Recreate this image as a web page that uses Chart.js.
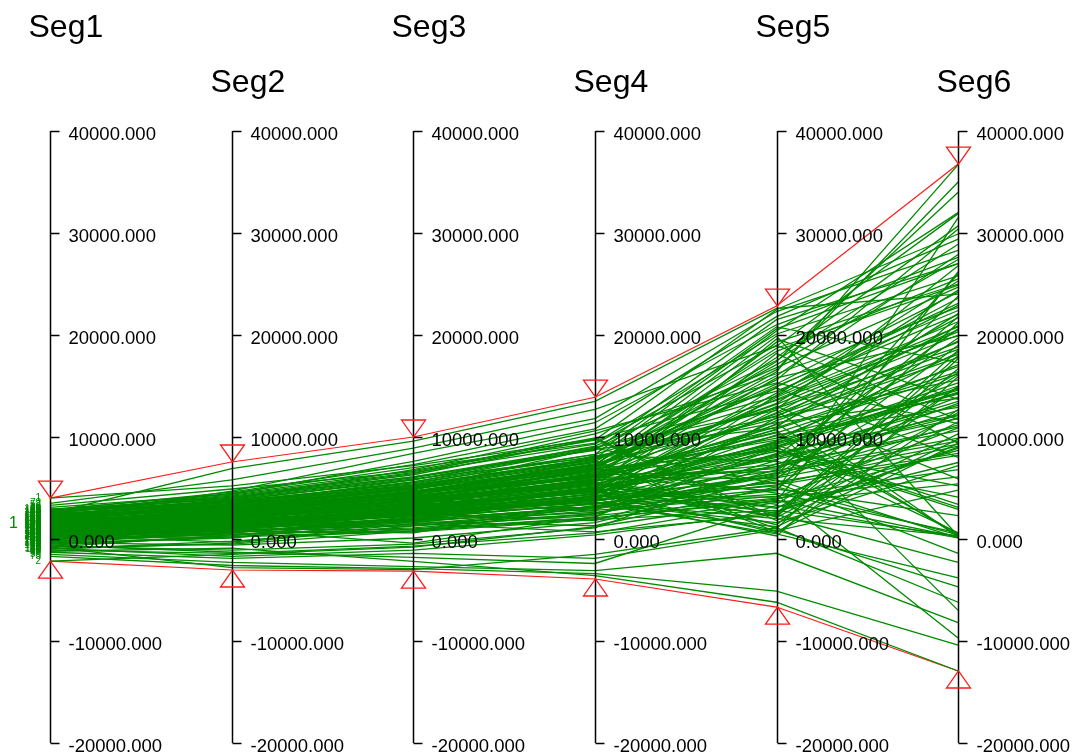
<!DOCTYPE html>
<html>
<head>
<meta charset="utf-8">
<script src="https://cdn.jsdelivr.net/npm/chart.js@4.4.1/dist/chart.umd.min.js"></script>
<style>
  html, body { margin: 0; padding: 0; background: #fff; }
  #wrap { width: 1076px; height: 754px; position: relative; }
</style>
</head>
<body>
<div id="wrap"><canvas id="pc"></canvas></div>
<script>
// axis names and tick values
const segNames = ['Seg1', 'Seg2', 'Seg3', 'Seg4', 'Seg5', 'Seg6'];
const tickValues = [40000, 30000, 20000, 10000, 0, -10000, -20000];

// red envelope (max / min per segment)
const maxValues = [4000, 7550, 10000, 13900, 22840, 36760];
const minValues = [-2160, -3040, -3140, -3920, -6670, -12940];

// one entry per green line, per segment
const seg1Values = [
  4000, -2160, 2800, 1500, 400, -800, 2200, 1200, 600, -300,
  1800, 2500, 900, 300, -1200, 1600, 2100, 700, 100, -500,
  1400, 2900, 1000, 200, -900, 1900, 2400, 800, 500, -200,
  1300, 3100, 1100, -600, 0, 1700, 2300, 650, 350, -1000,
  1450, 2650, 950, 150, -400, 2050, 2750, 850, 450, -700,
  1250, 3300, 1150, 250, -1500, 1550, 2150, 750, 50, -100,
  1350, 2950, 1050, 550, -1300, 1850, 2450, 1250, 300, -250,
  1650, 3500, 1350, 600, -1700, 2000, 2600, 900, 400, -50,
  1100, 2200, 1000, 200, -1100, 1750, 2350, 700, 100, -350,
  1200, 1900, 600, 2700, -800, 1500, 300, 2300, 1000, -300,
  1700, 800, 2100, 0, 1400, 2600, -600, 1100, 1800, 500,
  900, 2400, 1300, -1000, 2000, 700, 1600, 2800, 200, 1450,
  1550, 400, 2250, 1050, -200, 1900, 800, 2500, 1300, 600,
  2100, 1000, -400, 1700, 2900, 350, 1250, 2000, 750, -900,
  1400, 2300, 500, 1800, 1100, -100, 2600, 900, 1600, 300
];
const seg2Values = [
  5200, -1500, 4100, 2300, 1900, -2800, 3600, 700, 1400, 900,
  2600, 3400, 1700, -300, -900, 2900, 4700, 1300, 800, 300,
  2100, 3900, 1900, 1100, -1700, 3200, 2800, 2000, 1500, 500,
  1900, 4400, 2500, -1300, 600, 2400, 3100, 1000, 2200, -400,
  2000, 3700, 1200, 2700, 100, 3500, 4200, 1800, 600, -1100,
  1600, 4900, 2100, 1300, -2300, 2200, 3300, 2600, 400, 1200,
  2400, 3100, 800, 1600, -1900, 2700, 4500, 2300, 1700, 700,
  2800, 5800, 2000, 1000, -2600, 3000, 3800, 1500, 1100, 1400,
  1500, 2900, 1400, 900, -1400, 2500, 3000, 1100, 200, -600,
  2000, 3000, 1500, 4300, 400, 2600, 1200, 3800, 2300, 900,
  2900, 1800, 3500, 1100, 2400, 4100, 200, 2200, 3300, 1500,
  1700, 3600, 2700, -200, 3400, 1600, 2800, 4600, 1000, 2500,
  2800, 1300, 3700, 2000, 700, 3100, 1900, 6900, 2600, 1400,
  3400, 2100, 600, 3000, 4400, 1200, 2500, 3400, 1700, -500,
  2700, 3900, 1600, 3200, 2300, 1000, 4000, 2000, 2900, 1100
];
const seg3Values = [
  7200, -800, 6100, 3000, 4300, -3000, 5200, 1800, 2600, -400,
  4400, 5800, 2300, 1500, -2200, 3700, 8400, 2900, 600, 1900,
  3500, 6800, 4000, 2500, -1100, 4900, 3300, 3900, 3100, 800,
  2700, 7600, 3400, -1800, 2200, 3900, 4800, 900, 3800, 1300,
  3200, 5400, 2000, 4700, 1700, 5600, 6400, 3600, 2100, -500,
  2400, 6600, 3000, 2700, -2700, 3300, 5000, 4500, 1100, 2400,
  3700, 4600, 1400, 2800, -1400, 4200, 7000, 3000, 2800, 1600,
  4100, 8900, 2600, 2000, -2900, 4400, 5900, 2400, 1900, 2900,
  2200, 4300, 2700, 1300, -700, 3400, 4500, 1700, 700, 100,
  3300, 4500, 2700, 6500, 1800, 4000, 2600, 5800, 3900, 2000,
  4600, 3200, 5600, 2600, 3900, 6300, 1500, 3700, 5100, 3000,
  3000, 5300, 4400, 1000, 5200, 3000, 4600, 7300, 2400, 4100,
  4400, 2800, 5500, 3600, 1900, 4900, 3500, 9600, 4200, 2900,
  5300, 3700, 1800, 4700, 6700, 2500, 4100, 5200, 3200, 800,
  4200, 6000, 3100, 5000, 3800, 2300, 6100, 3500, 4700, 2600
];
const seg4Values = [
  9800, 1200, 8700, 5400, 2900, -1500, 7800, 4300, 6100, 2200,
  6300, 9100, 3800, 700, -3600, 5900, 11800, 4900, 3300, 5100,
  5800, 10600, 6900, 1800, 400, 7200, 6500, 2700, 8200, 3600,
  3100, 11400, 5200, -2400, 4500, 6800, 8900, 2100, 5700, 2800,
  4600, 8300, 4100, 7300, 1300, 8800, 10300, 5500, 3900, 1100,
  4200, 9700, 4600, 3800, -3100, 4700, 7100, 6600, 2500, 4000,
  5300, 7400, 3000, 4400, -1900, 6200, 9400, 5000, 4700, 3200,
  6700, 12700, 4400, 3500, -3400, 7000, 8000, 3600, 3100, 4800,
  3400, 6000, 4800, 2300, 600, 5600, 7600, 3000, 1900, 1600,
  5000, 7200, 4400, 9300, 2600, 6200, 3900, 8800, 5800, 3500,
  6800, 4700, 8300, 3900, 6100, 9800, 2400, 5600, 7600, 4900,
  4800, 7900, 6700, 2100, 7800, 4600, 6900, 10800, 3800, 6400,
  6500, 4200, 8100, 5500, 3100, 7300, 5400, 13500, 6300, 4600,
  7900, 5700, 3200, 7100, 9900, 3900, 6200, 7700, 5100, 2000,
  6100, 8900, 4900, 7500, 5900, 3700, 9000, 5300, 7000, 4100
];
const seg5Values = [
  14500, 3800, 21500, 9300, 6200, 1100, 12800, 18200, 4700, 8900,
  10400, 16800, 7100, 2400, -6200, 13700, 22300, 8600, 1200, 19600,
  11200, 15300, 4500, 6800, 2600, 20400, 9900, 14100, 7600, 500,
  8300, 21000, 12400, 3300, 9600, 17400, 5400, 11900, 15800, 4200,
  9100, 13600, 6100, 18700, 5100, 10900, 16200, 3100, 12700, 7400,
  6700, 22500, 8100, 11600, -1400, 7800, 13200, 9700, 5800, 14900,
  9400, 11800, 6500, 10200, 900, 8900, 20100, 7100, 13900, 4900,
  12100, 18900, 9000, 5300, -5100, 15000, 11400, 2000, 6300, 10800,
  5600, 10100, 14300, 4000, 3600, 12300, 17100, 8400, 2800, 6000,
  2200, 15600, 800, 19000, 4800, 10500, 300, 17500, 6900, 1600,
  13300, 2700, 20800, 5500, 11000, 1800, 7700, 3400, 16600, 9200,
  600, 12900, 19900, 3700, 14800, 2300, 8700, 21800, 5200, 10700,
  16400, 4100, 12000, 1400, 9000, 18400, 3000, 22600, 6600, 13000,
  20600, 7300, 4400, 15200, 2100, 11300, 17800, 1000, 8200, 3900,
  5900, 14000, 9500, 700, 19300, 6400, 12600, 2500, 16000, 8000
];
const seg6Values = [
  22000, 200, 27000, 14300, 26000, -6200, 18800, 9400, 31500, 3100,
  16200, 24700, 12600, -2300, -12940, 20800, 28300, 5200, 9800, 13700,
  19400, 11300, 600, 23800, 8900, 32000, 17100, 25300, 4100, -3800,
  13100, 27600, 21700, 100, 18300, 34000, 9100, 15600, 19900, 6800,
  14800, 20300, 11200, 24900, 400, 16900, 22700, 7500, 26800, 10600,
  9900, 29900, 13500, 17800, -8200, 12100, 20500, 14200, 100, 23100,
  15300, 18100, 9600, 12900, -4700, 14400, 25800, 11000, 21300, 2300,
  18600, 31900, 15000, 8200, -10400, 22400, 13800, 300, 11900, 16400,
  8400, 14700, 23600, 6100, 5400, 19300, 27400, 12200, 300, 9300,
  16700, 30400, 4800, 11700, 21200, 500, 15900, 28900, 13300, 7200,
  24400, 9000, 17300, -1400, 22100, 10300, 19700, 14900, 35000, 3400,
  12700, 20000, 300, 26200, 8000, 18000, 2900, 29400, 16100, -7000,
  36700, 10900, 20900, 15000, 600, 25500, 12400, 24000, 21800, 5900,
  27000, 13900, -9700, 24200, 11500, 300, 30700, 17700, 20600, 8700,
  19000, 22900, 14600, 9400, 25000, 16300, 200, 18500, 27900, 11800
];

const allSegs = [seg1Values, seg2Values, seg3Values, seg4Values, seg5Values, seg6Values];
const GREEN = '#008a00';
const RED = '#ff1a1a';

function toPoints(values) {
    return values.map((v, i) => ({ x: i, y: v }));
}

const datasets = [];
for (let i = 0; i < seg1Values.length; i++) {
    datasets.push({
        data: toPoints(allSegs.map(s => s[i])),
        borderColor: GREEN,
        borderWidth: 1.3,
        pointRadius: 0,
        tension: 0
    });
}
[maxValues, minValues].forEach(vals => {
    datasets.push({
        data: toPoints(vals),
        borderColor: RED,
        borderWidth: 1.2,
        pointRadius: 0,
        tension: 0
    });
});

// axes, tick labels, headers and the envelope triangles
const parallelAxes = {
    id: 'parallelAxes',
    afterDatasetsDraw(chart) {
        const ctx = chart.ctx;
        const xs = chart.scales.x;
        const ys = chart.scales.y;
        ctx.save();

        // labels stacked left of Seg1
        ctx.fillStyle = GREEN;
        ctx.font = '10px "Liberation Sans", Arial, sans-serif';
        ctx.textAlign = 'right';
        ctx.textBaseline = 'middle';
        seg1Values.forEach((v, i) => {
            ctx.fillText(String(i + 1), 41, ys.getPixelForValue(v));
        });
        ctx.font = '16px "Liberation Sans", Arial, sans-serif';
        ctx.textAlign = 'left';
        ctx.fillText('1', 9, 524);

        segNames.forEach((name, i) => {
            const px = Math.round(xs.getPixelForValue(i)) + 0.5;
            const top = ys.getPixelForValue(40000);
            const bottom = ys.getPixelForValue(-20000);

            ctx.strokeStyle = '#000';
            ctx.lineWidth = 1.5;
            ctx.beginPath();
            ctx.moveTo(px, top);
            ctx.lineTo(px, bottom);
            ctx.stroke();

            ctx.fillStyle = '#000';
            ctx.font = '18.5px "Liberation Sans", Arial, sans-serif';
            ctx.textAlign = 'left';
            ctx.textBaseline = 'middle';
            tickValues.forEach(t => {
                const ty = Math.round(ys.getPixelForValue(t)) + 0.5;
                ctx.beginPath();
                ctx.moveTo(px, ty);
                ctx.lineTo(px + 9, ty);
                ctx.stroke();
                ctx.fillText(t.toFixed(3), px + 18, ty + 3);
            });

            ctx.font = '32px "Liberation Sans", Arial, sans-serif';
            ctx.textBaseline = 'alphabetic';
            ctx.fillText(name, px - 22, i % 2 === 0 ? 37 : 92);

            // triangles: down above max, up below min
            ctx.strokeStyle = RED;
            ctx.lineWidth = 1.3;
            const yMax = ys.getPixelForValue(maxValues[i]);
            ctx.beginPath();
            ctx.moveTo(px, yMax);
            ctx.lineTo(px - 12, yMax - 17);
            ctx.lineTo(px + 12, yMax - 17);
            ctx.closePath();
            ctx.stroke();
            const yMin = ys.getPixelForValue(minValues[i]);
            ctx.beginPath();
            ctx.moveTo(px, yMin);
            ctx.lineTo(px - 12, yMin + 17);
            ctx.lineTo(px + 12, yMin + 17);
            ctx.closePath();
            ctx.stroke();
        });
        ctx.restore();
    }
};

new Chart(document.getElementById('pc').getContext('2d'), {
    type: 'line',
    data: { datasets },
    options: {
        responsive: true,
        maintainAspectRatio: false,
        animation: false,
        layout: { padding: { left: 50, top: 131, bottom: 11, right: 27 } },
        plugins: { legend: { display: false }, tooltip: { enabled: false } },
        scales: {
            x: { type: 'linear', min: 0, max: 5.5, display: false },
            y: { type: 'linear', min: -20000, max: 40000, display: false }
        }
    },
    plugins: [parallelAxes]
});
</script>
</body>
</html>
